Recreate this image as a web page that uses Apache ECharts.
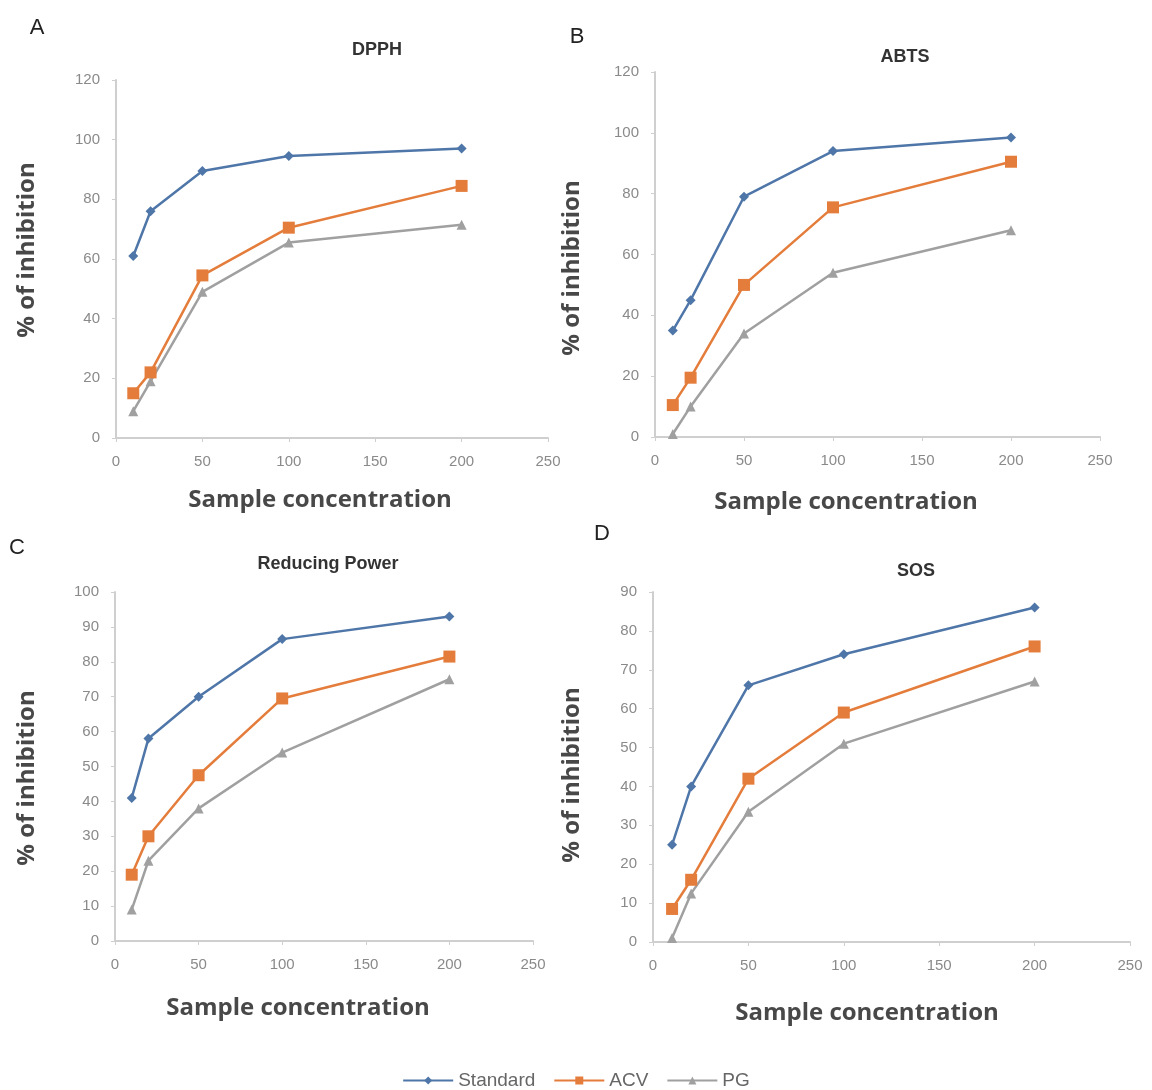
<!DOCTYPE html>
<html>
<head>
<meta charset="utf-8">
<script src="https://cdn.jsdelivr.net/npm/echarts@6/dist/echarts.min.js"></script>
<style>
  html, body { margin: 0; padding: 0; background: #fff; }
  #main { width: 1152px; height: 1090px; }
</style>
</head>
<body>
<div id="main"></div>
<script>
// sample concentrations (x values)
var conc = [10, 20, 50, 100, 200];
var seriesNames = ['Standard', 'ACV', 'PG'];

// A - DPPH
var dpphStandard = [61, 76, 89.5, 94.5, 97];
var dpphACV = [15, 22, 54.5, 70.5, 84.5];
var dpphPG = [9, 19, 49, 65.5, 71.5];

// B - ABTS
var abtsStandard = [35, 45, 79, 94, 98.5];
var abtsACV = [10.5, 19.5, 50, 75.5, 90.5];
var abtsPG = [1, 10, 34, 54, 68];

// C - Reducing Power
var rpStandard = [41, 58, 70, 86.5, 93];
var rpACV = [19, 30, 47.5, 69.5, 81.5];
var rpPG = [9, 23, 38, 54, 75];

// D - SOS
var sosStandard = [25, 40, 66, 74, 86];
var sosACV = [8.5, 16, 42, 59, 76];
var sosPG = [1, 12.5, 33.5, 51, 67];

var panelTitles = ['DPPH', 'ABTS', 'Reducing Power', 'SOS'];
var panelLetters = ['A', 'B', 'C', 'D'];
var yMax = [120, 120, 100, 90];
var yStep = [20, 20, 10, 10];

var panelData = [
    [dpphStandard, dpphACV, dpphPG],
    [abtsStandard, abtsACV, abtsPG],
    [rpStandard, rpACV, rpPG],
    [sosStandard, sosACV, sosPG]
];

var colors = ['#4f76a8', '#e47d3b', '#a0a0a0'];
var symbols = ['diamond', 'rect', 'triangle'];
var symbolSizes = [10, 12, 10];

var grids = [
    { left: 116, top: 80, width: 432, height: 358 },
    { left: 655, top: 72, width: 445, height: 365 },
    { left: 115, top: 592, width: 418, height: 349 },
    { left: 653, top: 592, width: 477, height: 350 }
];

function pairs(ys) {
    return conc.map(function (x, i) { return [x, ys[i]]; });
}

var chart = echarts.init(document.getElementById('main'));

var axisColor = '#cfcfcf';
var tickFont = { color: '#8a8a8a', fontSize: 15, fontFamily: 'Liberation Sans Narrow, Liberation Sans' };

var xAxes = [], yAxes = [], series = [];
for (var p = 0; p < 4; p++) {
    xAxes.push({
        type: 'value', gridIndex: p, min: 0, max: 250, interval: 50,
        splitLine: { show: false },
        axisLine: { lineStyle: { color: axisColor, width: 2 } },
        axisTick: { show: true, length: 4, lineStyle: { color: axisColor } },
        axisLabel: Object.assign({ margin: 16 }, tickFont)
    });
    yAxes.push({
        type: 'value', gridIndex: p, min: 0, max: yMax[p], interval: yStep[p],
        splitLine: { show: false },
        axisLine: { show: true, lineStyle: { color: axisColor, width: 2 } },
        axisTick: { show: true, length: 4, lineStyle: { color: axisColor } },
        axisLabel: Object.assign({ margin: 16 }, tickFont)
    });
    for (var s = 0; s < 3; s++) {
        series.push({
            name: seriesNames[s],
            type: 'line',
            xAxisIndex: p,
            yAxisIndex: p,
            data: pairs(panelData[p][s]),
            symbol: symbols[s],
            symbolSize: symbolSizes[s],
            color: colors[s],
            lineStyle: { width: 2.5, color: colors[s] },
            itemStyle: { color: colors[s] },
            z: 3 - s
        });
    }
}

var titles = [
    { text: panelTitles[0], left: 372, top: 36 },
    { text: panelTitles[1], left: 900, top: 43 },
    { text: panelTitles[2], left: 323, top: 550 },
    { text: panelTitles[3], left: 911, top: 557 }
].map(function (t) {
    return {
        text: t.text, left: t.left, top: t.top,
        textAlign: 'center',
        textStyle: { fontSize: 18, fontWeight: 'bold', color: '#333', fontFamily: 'Liberation Sans' }
    };
});

var letterPos = [[37, 28], [577, 37], [17, 548], [602, 534]];
var axisTitleStyle = { fontSize: 24, fontWeight: 'bold', fill: '#484848', fontFamily: 'Open Sans' };
var xNamePos = [[320, 500], [846, 502], [298, 1008], [867, 1013]];
var yNamePos = [[27, 250], [572, 268], [27, 778], [572, 775]];

var graphics = [];
for (var g = 0; g < 4; g++) {
    graphics.push({
        type: 'text', x: letterPos[g][0], y: letterPos[g][1],
        style: { text: panelLetters[g], fontSize: 22, fill: '#222', fontFamily: 'Liberation Sans', textAlign: 'center', textVerticalAlign: 'middle' }
    });
    graphics.push({
        type: 'text', x: xNamePos[g][0], y: xNamePos[g][1],
        style: Object.assign({ text: 'Sample concentration', textAlign: 'center', textVerticalAlign: 'middle' }, axisTitleStyle)
    });
    graphics.push({
        type: 'text', x: yNamePos[g][0], y: yNamePos[g][1], rotation: Math.PI / 2,
        style: Object.assign({ text: '% of inhibition', textAlign: 'center', textVerticalAlign: 'middle' }, axisTitleStyle)
    });
}

var option = {
    backgroundColor: '#fff',
    animation: false,
    title: titles,
    legend: {
        data: seriesNames,
        top: 1066,
        left: 'center',
        itemWidth: 50,
        itemHeight: 10,
        itemGap: 18,
        textStyle: { color: '#666', fontSize: 19, fontFamily: 'Liberation Sans' }
    },
    grid: grids,
    xAxis: xAxes,
    yAxis: yAxes,
    series: series,
    graphic: graphics
};

if (option && typeof option === "object") {
    chart.setOption(option, true);
}
window.addEventListener('resize', function () {
    chart.resize();
});
</script>
</body>
</html>
